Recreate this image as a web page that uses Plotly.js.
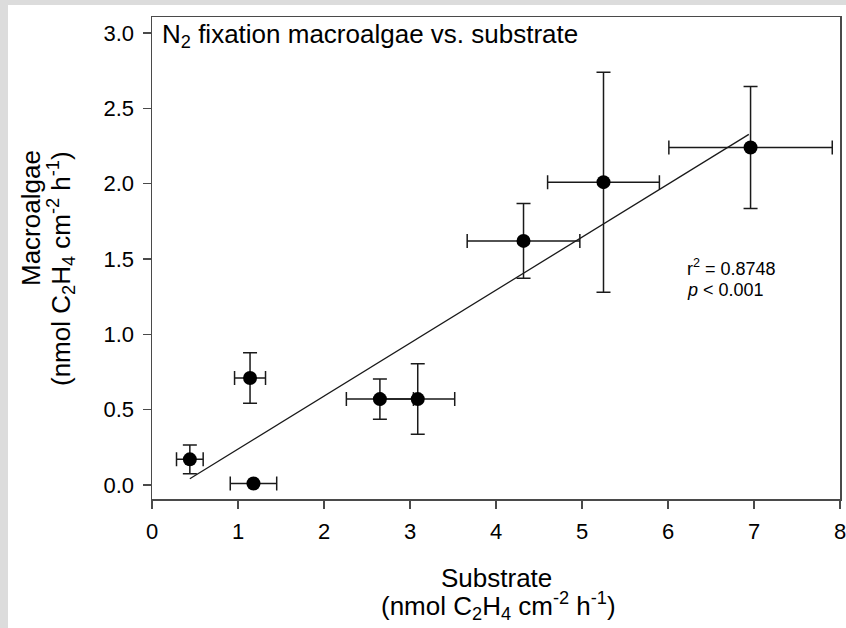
<!DOCTYPE html>
<html>
<head>
<meta charset="utf-8">
<script src="https://cdn.plot.ly/plotly-3.0.1.min.js"></script>
<style>
  html, body { margin: 0; padding: 0; background: #dcdcdc; width: 846px; height: 628px; overflow: hidden; }
  #chart { position: absolute; left: 8px; top: 5px; width: 838px; height: 623px; background: #ffffff; }
</style>
</head>
<body>
<div id="chart"></div>
<script>
// ---- data ----
var substrate      = [0.44, 1.14, 1.18, 2.65, 3.09, 4.32, 5.25, 6.96];
var macroalgae     = [0.17, 0.71, 0.01, 0.57, 0.57, 1.62, 2.01, 2.24];
var substrateErr   = [0.155, 0.18, 0.27, 0.39, 0.43, 0.655, 0.65, 0.95];
var macroalgaeErr  = [0.095, 0.167, 0, 0.133, 0.234, 0.248, 0.73, 0.405];
var fitX = [0.44, 6.94];
var fitY = [0.041, 2.327];
var xTicks = [0, 1, 2, 3, 4, 5, 6, 7, 8];
var yTicks = [0.0, 0.5, 1.0, 1.5, 2.0, 2.5, 3.0];
var statsText = ['r<sup>2</sup> = 0.8748', '<i>p</i> < 0.001'];
var titleText = 'N<sub>2</sub> fixation macroalgae vs. substrate';
var xTitleLines = ['Substrate', '(nmol C<sub>2</sub>H<sub>4</sub> cm<sup>-2</sup> h<sup>-1</sup>)'];
var yTitleLines = ['Macroalgae', '(nmol C<sub>2</sub>H<sub>4</sub> cm<sup>-2</sup> h<sup>-1</sup>)'];

// ---- layout geometry (page pixels) ----
var divLeft = 8, divTop = 5, divW = 838, divH = 623;
var plotL = 152, plotR = 840, plotT = 17, plotB = 499;
function px(xp) { return (xp - plotL) / (plotR - plotL); }
function py(yp) { return (plotB - yp) / (plotB - plotT); }

var FONT = '"Liberation Sans", Arial, sans-serif';
var ink = '#1a1a1a';
var axisColor = '#4a4a4a';

var traces = [
  {
    x: fitX, y: fitY, type: 'scatter', mode: 'lines',
    line: { color: ink, width: 1.3 }, hoverinfo: 'skip', showlegend: false
  },
  {
    x: substrate, y: macroalgae, type: 'scatter', mode: 'markers',
    marker: { color: '#000000', size: 14 },
    error_x: { type: 'data', array: substrateErr, visible: true, thickness: 1.5, width: 7, color: ink },
    error_y: { type: 'data', array: macroalgaeErr, visible: true, thickness: 1.5, width: 7, color: ink },
    showlegend: false
  }
];

var annFont = function (s) { return { family: FONT, size: s, color: '#000000' }; };

var annotations = [
  { xref: 'paper', yref: 'paper', x: px(160), y: py(36), xanchor: 'left', yanchor: 'middle',
    text: titleText, showarrow: false, font: annFont(26) },
  { xref: 'paper', yref: 'paper', x: px(496), y: py(578), xanchor: 'center', yanchor: 'middle',
    text: xTitleLines[0], showarrow: false, font: annFont(26) },
  { xref: 'paper', yref: 'paper', x: px(498), y: py(606), xanchor: 'center', yanchor: 'middle',
    text: xTitleLines[1], showarrow: false, font: annFont(26) },
  { xref: 'paper', yref: 'paper', x: px(31), y: py(218), xanchor: 'center', yanchor: 'middle',
    text: yTitleLines[0], textangle: -90, showarrow: false, font: annFont(26) },
  { xref: 'paper', yref: 'paper', x: px(61), y: py(268), xanchor: 'center', yanchor: 'middle',
    text: yTitleLines[1], textangle: -90, showarrow: false, font: annFont(26) },
  { xref: 'paper', yref: 'paper', x: px(685), y: py(267), xanchor: 'left', yanchor: 'middle',
    text: statsText[0], showarrow: false, font: annFont(18) },
  { xref: 'paper', yref: 'paper', x: px(685), y: py(290), xanchor: 'left', yanchor: 'middle',
    text: statsText[1], showarrow: false, font: annFont(18) }
];

var axisCommon = {
  showgrid: false, zeroline: false, showline: true, mirror: true,
  linecolor: axisColor, linewidth: 1.5,
  ticks: 'outside', ticklen: 8, tickwidth: 1.5, tickcolor: axisColor,
  ticklabeloverflow: 'allow',
  tickfont: { family: FONT, size: 22, color: '#000000' }
};

var layout = {
  width: divW, height: divH,
  margin: { l: plotL - divLeft, r: divLeft + divW - plotR, t: plotT - divTop, b: divTop + divH - plotB, pad: 0 },
  paper_bgcolor: '#ffffff', plot_bgcolor: '#ffffff',
  font: { family: FONT, color: '#000000' },
  xaxis: Object.assign({}, axisCommon, {
    range: [0, 8], tickvals: xTicks, ticktext: xTicks.map(String), ticklabelstandoff: 4
  }),
  yaxis: Object.assign({}, axisCommon, {
    range: [-0.093, 3.106], tickvals: yTicks, ticktext: yTicks.map(function (v) { return v.toFixed(1); }),
    ticklabelstandoff: 4
  }),
  annotations: annotations,
  showlegend: false
};

Plotly.newPlot('chart', traces, layout, { displayModeBar: false, staticPlot: true });
</script>
</body>
</html>
